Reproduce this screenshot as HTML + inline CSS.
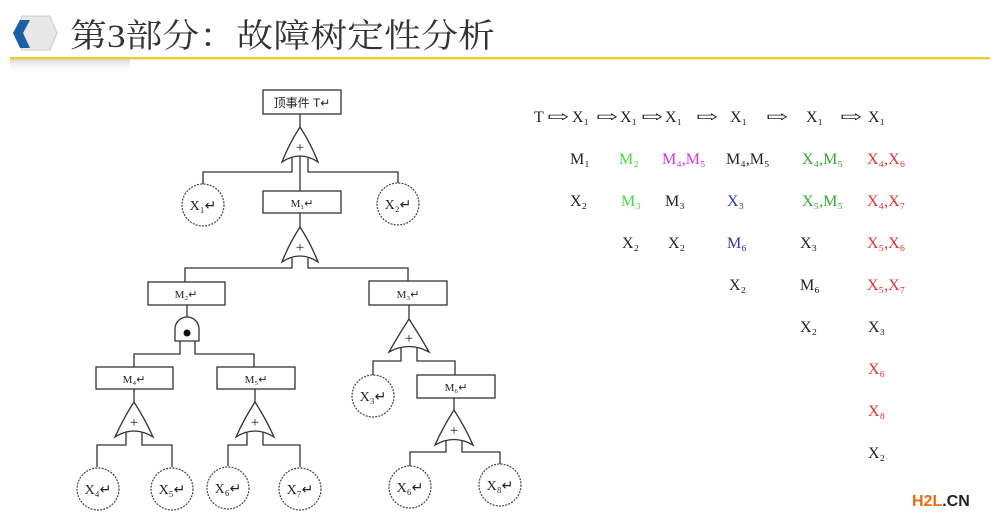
<!DOCTYPE html>
<html><head><meta charset="utf-8"><style>
html,body{margin:0;padding:0;background:#fff;}
svg{display:block}
</style></head><body>
<svg width="1000" height="523" viewBox="0 0 1000 523" xmlns="http://www.w3.org/2000/svg">
<defs>
<linearGradient id="sh" x1="0" y1="0" x2="0" y2="1"><stop offset="0" stop-color="#bbb" stop-opacity=".6"/><stop offset="1" stop-color="#fff" stop-opacity="0"/></linearGradient>
</defs>
<!-- header -->
<rect x="10" y="59" width="120" height="14" fill="url(#sh)"/>
<path d="M22 16 L50 16 L57 33 L50 50 L22 50 L16 33 Z" fill="#e8e8e8" stroke="#ccc"/>
<path d="M20 20 L30 20 L23 33 L30 48 L20 48 L13 33 Z" fill="#1a5fa8"/>
<text x="70" y="47" font-family="'Liberation Serif','Noto Serif CJK SC',serif" font-size="33" fill="#333" textLength="425" lengthAdjust="spacingAndGlyphs">第3部分：故障树定性分析</text>
<rect x="10" y="57" width="980" height="2.5" fill="#e8cf3a"/>

<g stroke="#333" stroke-width="1.3" fill="none">
<rect x="263" y="90" width="78" height="24" fill="#fff"/>
<rect x="263" y="191" width="78" height="22" fill="#fff"/>
<rect x="148" y="282" width="77" height="23" fill="#fff"/>
<rect x="369" y="281" width="78" height="24" fill="#fff"/>
<rect x="96" y="367" width="77" height="22" fill="#fff"/>
<rect x="217" y="367" width="78" height="22" fill="#fff"/>
<rect x="417" y="375" width="78" height="23" fill="#fff"/>
<path d="M300 114 V127"/>
<path d="M292 158 V172 H203 V184 M308 158 V172 H398 V183 M300 150 V191"/>
<path d="M300 213 V227"/>
<path d="M292 258 V268 H185 V282 M308 258 V268 H408 V281"/>
<path d="M187 305 V317"/>
<path d="M180 341 V354 H134 V367 M195 341 V354 H254 V367"/>
<path d="M134 389 V402 M255 389 V402 M409 305 V319 M454 398 V410"/>
<path d="M126 432 V445 H97 V467 M142 432 V445 H172 V467"/>
<path d="M247 432 V445 H228 V466 M263 432 V445 H300 V467"/>
<path d="M401 348 V361 H373 V375 M417 348 V361 H455 V375"/>
<path d="M446 441 V452 H410 V466 M462 441 V452 H500 V464"/>
<path d="M175 341 V329 A12 12 0 0 1 199 329 V341 Z" fill="#fff"/>
</g>
<circle cx="187" cy="333" r="3.5" fill="#111"/>
<g stroke="#333" stroke-width="1.3" fill="#fff">
<path d="M300 127 Q311 144 318 162 Q300 150 282 162 Q289 144 300 127 Z"/>
<path d="M300 227 Q311 244 318 262 Q300 250 282 262 Q289 244 300 227 Z"/>
<path d="M134 402 Q145 419 153 437 Q134 425 115 437 Q123 419 134 402 Z"/>
<path d="M255 402 Q266 419 274 437 Q255 425 236 437 Q244 419 255 402 Z"/>
<path d="M409 319 Q420 336 429 352 Q409 341 389 352 Q398 336 409 319 Z"/>
<path d="M454 410 Q465 427 473 445 Q454 434 435 445 Q443 427 454 410 Z"/>
</g>
<g font-family="'Liberation Serif',serif" font-size="15" fill="#222" text-anchor="middle">
<text x="300" y="152">+</text><text x="300" y="252">+</text>
<text x="134" y="427">+</text><text x="255" y="427">+</text>
<text x="409" y="343">+</text><text x="454" y="435">+</text>
</g>
<g stroke="#444" stroke-width="1.2" fill="#fff" stroke-dasharray="2 1.2">
<circle cx="203" cy="205" r="21"/><circle cx="398" cy="204" r="21"/>
<circle cx="373" cy="396" r="21"/>
<circle cx="98" cy="489" r="21"/><circle cx="172" cy="489" r="21"/>
<circle cx="228" cy="488" r="21"/><circle cx="300" cy="489" r="21"/>
<circle cx="410" cy="487" r="21"/><circle cx="500" cy="485" r="21"/>
</g>
<g font-family="'Liberation Serif','Noto Serif CJK SC',serif" fill="#222" font-size="12" text-anchor="middle">
<text x="302" y="107" font-family="'Liberation Sans','Noto Sans CJK SC',sans-serif">顶事件 T↵</text>
<text x="302" y="207" font-size="11">M₁↵</text>
<text x="186" y="298" font-size="11">M₂↵</text>
<text x="408" y="298" font-size="11">M₃↵</text>
<text x="134" y="383" font-size="11">M₄↵</text>
<text x="256" y="383" font-size="11">M₅↵</text>
<text x="456" y="391" font-size="11">M₆↵</text>
<g font-size="14">
<text x="203" y="210">X₁↵</text><text x="398" y="209">X₂↵</text>
<text x="373" y="401">X₃↵</text>
<text x="98" y="494">X₄↵</text><text x="172" y="494">X₅↵</text>
<text x="228" y="493">X₆↵</text><text x="300" y="494">X₇↵</text>
<text x="410" y="492">X₆↵</text><text x="500" y="490">X₈↵</text>
</g>
</g>
<g font-family="'Liberation Serif','DejaVu Serif',serif" font-size="16" fill="#222">
<text x="534" y="122">T</text>
<text x="547" y="122" textLength="22" lengthAdjust="spacingAndGlyphs">⇨</text>
<text x="572" y="122">X₁</text>
<text x="596" y="122" textLength="22" lengthAdjust="spacingAndGlyphs">⇨</text>
<text x="620" y="122">X₁</text>
<text x="641" y="122" textLength="22" lengthAdjust="spacingAndGlyphs">⇨</text>
<text x="665" y="122">X₁</text>
<text x="696" y="122" textLength="22" lengthAdjust="spacingAndGlyphs">⇨</text>
<text x="730" y="122">X₁</text>
<text x="766" y="122" textLength="22" lengthAdjust="spacingAndGlyphs">⇨</text>
<text x="806" y="122">X₁</text>
<text x="840" y="122" textLength="22" lengthAdjust="spacingAndGlyphs">⇨</text>
<text x="868" y="122">X₁</text>

<text x="570" y="164">M₁</text>
<text x="619" y="164" fill="#44dd44">M₂</text>
<text x="662" y="164" fill="#d633d6">M₄,M₅</text>
<text x="726" y="164">M₄,M₅</text>
<text x="802" y="164" fill="#33aa33">X₄,M₅</text>
<text x="867" y="164" fill="#dd3333">X₄,X₆</text>

<text x="570" y="206">X₂</text>
<text x="621" y="206" fill="#44dd44">M₃</text>
<text x="665" y="206">M₃</text>
<text x="727" y="206" fill="#3333aa">X₃</text>
<text x="802" y="206" fill="#33aa33">X₅,M₅</text>
<text x="867" y="206" fill="#dd3333">X₄,X₇</text>

<text x="622" y="248">X₂</text>
<text x="668" y="248">X₂</text>
<text x="727" y="248" fill="#3333aa">M₆</text>
<text x="800" y="248">X₃</text>
<text x="867" y="248" fill="#dd3333">X₅,X₆</text>

<text x="729" y="290">X₂</text>
<text x="800" y="290">M₆</text>
<text x="867" y="290" fill="#dd3333">X₅,X₇</text>

<text x="800" y="332">X₂</text>
<text x="868" y="332">X₃</text>
<text x="868" y="374" fill="#dd3333">X₆</text>
<text x="868" y="416" fill="#dd3333">X₈</text>
<text x="868" y="458">X₂</text>
</g>
<text x="912" y="506" font-family="'Liberation Sans',sans-serif" font-weight="bold" font-size="16"><tspan fill="#ee6a10">H2L</tspan><tspan fill="#222">.CN</tspan></text>
</svg>
</body></html>
